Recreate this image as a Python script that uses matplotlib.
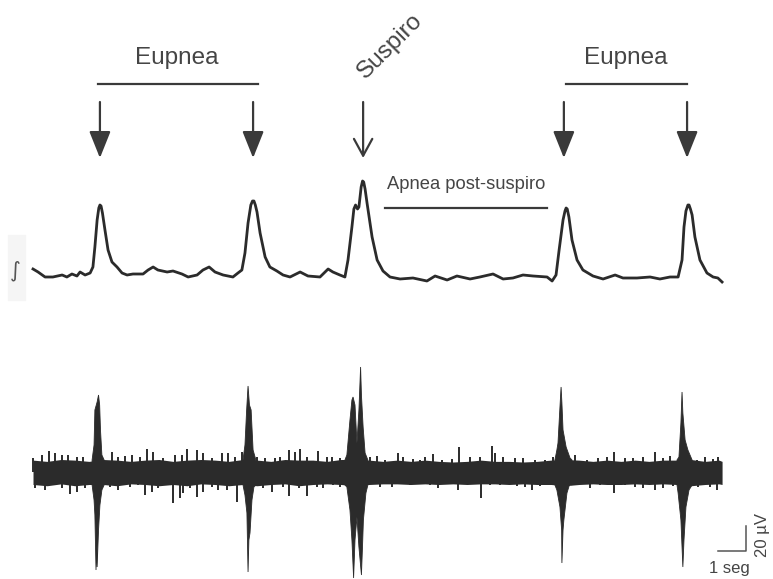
import matplotlib.pyplot as plt
from matplotlib.patches import Rectangle

# Trazo integrado (tiempo en s, amplitud en u.a.)
int_t = [0.00, 0.18, 0.43, 0.71, 1.04, 1.21, 1.39, 1.57, 1.68, 1.86, 2.04, 2.14, 2.21, 2.29,
         2.35, 2.39, 2.43, 2.48, 2.57, 2.68, 2.82, 3.00, 3.18, 3.36, 3.57, 3.93, 4.11, 4.29,
         4.46, 4.79, 5.00, 5.32, 5.54, 5.86, 6.07, 6.29, 6.50, 6.79, 7.14, 7.32, 7.46, 7.57,
         7.68, 7.78, 7.84, 7.89, 7.94, 8.00, 8.11, 8.29, 8.46, 8.71, 8.93, 9.18, 9.54, 9.82,
         10.25, 10.54, 10.71, 10.96, 11.14, 11.25, 11.39, 11.46, 11.52, 11.59, 11.64, 11.72,
         11.77, 11.81, 11.86, 11.93, 12.11, 12.29, 12.50, 12.75, 13.11, 13.57, 14.07, 14.36,
         14.79, 15.14, 15.61, 15.96, 16.43, 16.79, 17.14, 17.50, 17.86, 18.36, 18.54, 18.68,
         18.79, 18.93, 19.00, 19.04, 19.08, 19.14, 19.25, 19.43, 19.64, 20.00, 20.36, 20.79,
         21.07, 21.57, 22.04, 22.39, 22.75, 23.04, 23.18, 23.25, 23.32, 23.39, 23.43, 23.48,
         23.54, 23.64, 23.82, 24.07, 24.29, 24.46, 24.61]
int_v = [6, 3, -2, -2, 0, -2, 1, -1, 3, 0, 2, 8, 28, 55,
         67, 70, 69, 62, 45, 25, 13, 8, 2, 0, 1, 1, 5, 8,
         5, 3, 4, 1, -2, 0, 5, 8, 3, 0, -2, 2, 5, 22,
         52, 70, 74, 74, 70, 63, 42, 18, 8, 4, 0, -2, 3, -1,
         -2, 6, 3, 0, -2, 15, 48, 66, 70, 66, 68, 88,
         94, 93, 86, 72, 38, 15, 4, -2, -4, -3, -6, -1,
         -5, -1, -4, -2, 1, -4, -3, 0, -1, -2, -6, 0,
         25, 55, 64, 67, 66, 58, 35, 15, 5, -1, -4, 0,
         -3, -3, -2, -4, -2, -2, 15, 48, 64, 70, 70, 66,
         60, 38, 15, 2, -2, -3, -7]

# Trazo crudo (uV): banda de ruido de base cada 0.5 s
band_t = [0.0, 0.5, 1.0, 1.5, 2.0, 2.5, 3.0, 3.5, 4.0, 4.5, 5.0, 5.5, 6.0, 6.5, 7.0, 7.5,
          8.0, 8.5, 9.0, 9.5, 10.0, 10.5, 11.0, 11.5, 12.0, 12.5, 13.0, 13.5, 14.0, 14.5,
          15.0, 15.5, 16.0, 16.5, 17.0, 17.5, 18.0, 18.5, 19.0, 19.5, 20.0, 20.5, 21.0,
          21.5, 22.0, 22.5, 23.0, 23.5, 24.0, 24.5, 24.61]
band_hi = [9.5, 8.5, 10, 9.5, 8.5, 10, 9.5, 8.5, 9.5, 10, 8.5, 9.5, 10, 9.5, 8.5, 10, 9.5,
           8.5, 10, 9.5, 9.5, 8.5, 10, 10, 9.5, 8.5, 9.5, 8.5, 9.5, 8.5, 8, 8.5, 9.5, 8.5,
           8.5, 8, 8.5, 9.5, 10, 9.5, 8.5, 9.5, 8.5, 9.5, 8.5, 9.5, 9.5, 10, 8.5, 9.5, 8.5]
band_lo = [-10, -11, -9.5, -11, -10, -10, -11, -9.5, -10, -11, -10, -11, -9.5, -10, -11,
           -10, -11, -10, -9.5, -11, -10, -9.5, -10, -11, -10, -9.5, -9.5, -10, -9.5, -10,
           -9.5, -10, -9.5, -9.5, -10, -9.5, -10, -10, -11, -10, -9.5, -10, -10, -9.5, -10,
           -9.5, -10, -11, -10, -9.5, -10]

# Espigas sueltas hacia arriba
up_t = [0.00, 0.32, 0.57, 0.79, 1.04, 1.25, 1.57, 1.79, 2.82, 3.04, 3.29, 3.54, 3.82, 4.07,
        4.29, 4.64, 5.07, 5.32, 5.50, 5.86, 6.07, 6.39, 6.75, 6.96, 7.21, 7.46, 8.00, 8.29,
        8.64, 8.82, 9.14, 9.36, 9.54, 9.79, 10.18, 10.50, 10.68, 10.96, 12.04, 12.29, 12.57,
        13.04, 13.21, 13.57, 13.82, 14.00, 14.29, 14.61, 14.96, 15.21, 15.61, 15.96, 16.39,
        16.50, 16.79, 17.21, 17.50, 17.93, 18.29, 18.57, 19.36, 19.79, 20.18, 20.50, 20.75,
        21.14, 21.43, 21.79, 22.21, 22.50, 22.75, 23.71, 24.00, 24.29, 24.46]
up_v = [11.2, 13.6, 16.8, 15.2, 13.6, 13.6, 12.0, 12.0, 16.0, 12.0, 12.8, 13.6, 12.0, 18.4,
        16.0, 11.2, 13.6, 13.6, 18.4, 17.6, 15.2, 11.2, 15.2, 15.2, 12.0, 16.0, 12.0, 11.2,
        11.2, 12.0, 17.6, 16.0, 18.4, 12.0, 16.8, 12.0, 12.0, 11.2, 12.0, 12.8, 9.6,
        15.2, 12.0, 10.4, 9.6, 12.0, 14.4, 9.6, 10.4, 20.0, 12.0, 12.0, 20.8,
        15.2, 12.0, 11.2, 11.2, 9.6, 9.6, 12.0, 13.6, 9.6, 11.2, 12.0, 16.0,
        11.2, 11.2, 12.0, 16.0, 11.2, 12.8, 9.6, 12.0, 10.4, 12.0]

# Espigas sueltas hacia abajo
down_t = [0.07, 0.43, 0.71, 1.04, 1.32, 1.57, 1.86, 2.75, 3.04, 3.46, 3.75, 4.00, 4.25, 4.46,
          5.00, 5.25, 5.36, 5.61, 5.86, 6.07, 6.39, 6.61, 6.93, 7.29, 8.21, 8.54, 8.93, 9.14,
          9.36, 9.50, 9.79, 10.14, 10.36, 10.71, 10.96, 12.39, 12.82, 13.11, 13.46, 13.93,
          14.18, 14.46, 14.82, 15.18, 15.61, 16.00, 16.32, 16.68, 17.29, 17.57, 17.82, 18.11,
          18.46, 19.89, 20.25, 20.75, 21.14, 21.50, 21.79, 22.21, 22.50, 22.86, 23.75, 24.18,
          24.43]
down_v = [-12.8, -14.4, -10.4, -12.8, -17.6, -16.0, -12.8, -12.0, -14.4, -12.0, -10.4, -18.4,
          -16.0, -12.8, -24.8, -20.8, -16.8, -12.8, -20.0, -16.0, -12.0, -14.4, -14.4, -24.0,
          -12.8, -16.0, -12.0, -19.2, -10.4, -12.8, -19.2, -12.0, -12.8, -10.4, -12.0, -12.0,
          -12.0, -8.8, -10.4, -8.8, -10.4, -12.8, -8.0, -14.4, -8.8, -20.8, -10.4, -10.4,
          -11.2, -12.0, -14.4, -11.2, -10.4, -12.8, -10.4, -16.8, -10.4, -12.0, -12.8, -14.4,
          -12.8, -11.2, -12.0, -12.0, -14.4]

# Envolventes de las rafagas inspiratorias (t, uV)
burst_up_t = [
    [2.11, 2.18, 2.21, 2.29, 2.34, 2.38, 2.41, 2.46, 2.54],
    [7.50, 7.57, 7.63, 7.68, 7.73, 7.79, 7.86, 7.96],
    [11.14, 11.21, 11.32, 11.39, 11.43, 11.50, 11.57, 11.64, 11.70, 11.73, 11.79, 11.86, 11.96],
    [18.64, 18.71, 18.75, 18.82, 18.86, 18.89, 18.93, 19.04, 19.18, 19.25],
    [23.00, 23.07, 23.14, 23.18, 23.21, 23.29, 23.39, 23.54],
]
burst_up_v = [
    [9.6, 21.6, 49.6, 56, 61.6, 53.6, 33.6, 13.6, 9.6],
    [9.6, 21.6, 49.6, 68.8, 53.6, 49.6, 17.6, 9.6],
    [9.6, 13.6, 41.6, 57.6, 60, 53.6, 23.2, 49.6, 84, 61.6, 36, 15.2, 9.6],
    [9.6, 17.6, 23.2, 52, 68, 55.2, 33.6, 20, 11.2, 9.6],
    [9.6, 12, 39.2, 64, 47.2, 25.6, 17.6, 9.6],
]
burst_lo_t = [
    [2.11, 2.18, 2.21, 2.25, 2.27, 2.29, 2.34, 2.39, 2.46, 2.54],
    [7.50, 7.57, 7.64, 7.68, 7.71, 7.75, 7.82, 7.89, 7.96],
    [11.14, 11.21, 11.32, 11.39, 11.45, 11.50, 11.57, 11.64, 11.73, 11.77, 11.80, 11.89, 11.96],
    [18.64, 18.71, 18.82, 18.88, 18.89, 18.93, 18.96, 19.07, 19.18, 19.25],
    [23.00, 23.04, 23.14, 23.18, 23.21, 23.25, 23.32, 23.43, 23.54],
]
burst_lo_v = [
    [-10.4, -22.4, -34.4, -78.4, -58.4, -76, -46.4, -26.4, -14.4, -10.4],
    [-10.4, -18.4, -32.8, -80, -54.4, -48.8, -22.4, -12, -10.4],
    [-10.4, -12, -30.4, -54.4, -84.8, -54.4, -36, -60, -82.4, -58.4, -38.4, -16.8, -10.4],
    [-10.4, -14.4, -28, -46.4, -72.8, -46.4, -38.4, -16.8, -8.8, -10.4],
    [-10.4, -16.8, -38.4, -60, -76, -54.4, -28, -14.4, -10.4],
]

# Momentos de cada evento respiratorio
peak_times = [2.39, 7.86, 11.79, 18.96, 23.36]
peak_kind = ["eupnea", "eupnea", "suspiro", "eupnea", "eupnea"]

trace_color = "#2b2b2b"
text_color = "#454545"
plt.rcParams['font.family'] = ['Liberation Sans', 'DejaVu Sans']

fig = plt.figure(figsize=(7.73, 5.79), dpi=100)
ax_top = fig.add_axes([0, 0, 1, 1])
ax_bot = fig.add_axes([0, 0, 1, 1])
for ax in (ax_top, ax_bot):
    ax.set_xlim(-1.179, 26.429)
    ax.axis('off')
    ax.patch.set_alpha(0)
ax_top.set_ylim(-304, 275)
ax_bot.set_ylim(-85.6, 377.6)

# Trazo integrado
ax_top.plot(int_t, int_v, color=trace_color, lw=2.0, solid_joinstyle='round')

# Trazo crudo
ax_bot.fill_between(band_t, band_lo, band_hi, color=trace_color, lw=0)
ax_bot.vlines(up_t, 0, up_v, color=trace_color, lw=1.4)
ax_bot.vlines(down_t, 0, down_v, color=trace_color, lw=1.4)
for ut, uv, lt, lv in zip(burst_up_t, burst_up_v, burst_lo_t, burst_lo_v):
    xs = ut + lt[::-1]
    ys = uv + lv[::-1]
    ax_bot.fill(xs, ys, color=trace_color, lw=0.6, ec=trace_color)

# Flechas sobre cada evento
for t, kind in zip(peak_times, peak_kind):
    if kind == "suspiro":
        style = "->,head_length=0.55,head_width=0.3"
    else:
        style = "-|>,head_length=0.75,head_width=0.3"
    ax_top.annotate("", xy=(t, 117), xytext=(t, 173),
                    arrowprops=dict(arrowstyle=style, color="#3a3a3a", lw=1.6,
                                    shrinkA=0, shrinkB=0, mutation_scale=22))

# Barras y etiquetas
ax_top.plot([2.32, 8.04], [191, 191], color="#3a3a3a", lw=1.6)
ax_top.plot([19.04, 23.36], [191, 191], color="#3a3a3a", lw=1.6)
ax_top.text(5.14, 217, "Eupnea", ha='center', va='center', fontsize=17.5, color=text_color)
ax_top.text(21.18, 217, "Eupnea", ha='center', va='center', fontsize=17.5, color=text_color)
ax_top.text(12.75, 229, "Suspiro", ha='center', va='center', fontsize=17.5, color=text_color,
            rotation=45, rotation_mode='anchor')
ax_top.plot([12.57, 18.36], [67, 67], color="#3a3a3a", lw=1.6)
ax_top.text(12.64, 91, "Apnea post-suspiro", ha='left', va='center', fontsize=13.2,
            color=text_color)

# Simbolo de integral
fig.patches.append(Rectangle((8 / 773, 1 - 300 / 579), 17 / 773, 65 / 579,
                             transform=fig.transFigure, color="#f5f5f5", zorder=0))
fig.text(15 / 773, 1 - 271 / 579, "\u222b", ha='center', va='center', fontsize=15,
         color="#555555", family='DejaVu Sans')

# Barra de escala: 1 seg, 20 uV
ax_bot.plot([24.46, 25.46, 25.46], [-63.2, -63.2, -43.2], color="#555555", lw=1.1)
ax_bot.text(24.86, -77, "1 seg", ha='center', va='center', fontsize=12, color=text_color)
ax_bot.text(26.07, -50.4, "20 \u00b5V", ha='center', va='center', fontsize=12,
            color=text_color, rotation=90)

fig.savefig("out.png", dpi=100)
